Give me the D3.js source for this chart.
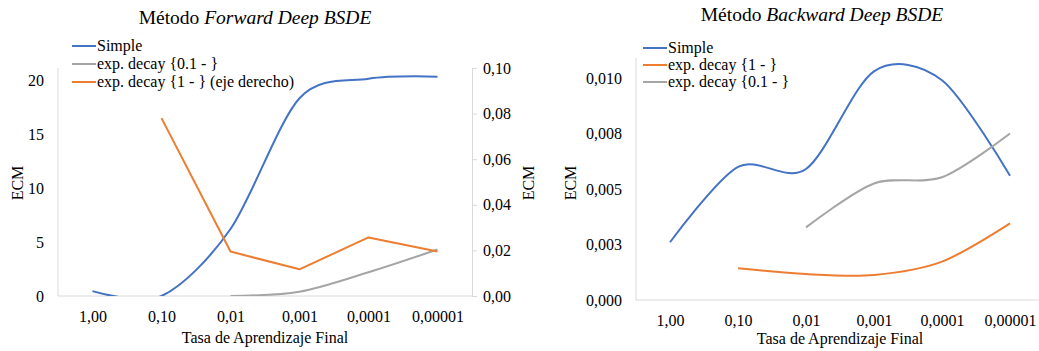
<!DOCTYPE html>
<html>
<head>
<meta charset="utf-8">
<script src="https://cdn.jsdelivr.net/npm/d3@7"></script>
<style>
  body { margin: 0; background: #fff; }
</style>
</head>
<body>
<div class="canvas"></div>
<script>
// categories on the x axis (final learning rate)
const categories = ['1,00', '0,10', '0,01', '0,001', '0,0001', '0,00001'];

// Forward Deep BSDE
const fwdSimple = [0.45, 0, 6.2, 18.3, 20.1, 20.3];
const fwdDecay01 = [null, null, 0, 0.4, 2.2, 4.3];
const fwdDecay1 = [null, 0.078, 0.0195, 0.0117, 0.0257, 0.0195]; // right axis
const fwdLeftTicks = [0, 5, 10, 15, 20];
const fwdRightTicks = [0, 0.02, 0.04, 0.06, 0.08, 0.10];
const fwdRightLabels = ['0,00', '0,02', '0,04', '0,06', '0,08', '0,10'];

// Backward Deep BSDE
const bwdSimple = [0.0026, 0.0060, 0.0059, 0.0103, 0.0099, 0.0056];
const bwdDecay1 = [null, 0.00143, 0.00117, 0.00113, 0.00173, 0.00345];
const bwdDecay01 = [null, null, 0.00327, 0.00525, 0.00553, 0.0075];
const bwdTicks = [0, 0.0025, 0.005, 0.0075, 0.01];
const bwdTickLabels = ['0,000', '0,003', '0,005', '0,008', '0,010'];

const BLUE = '#4472c4', ORANGE = '#ed7d31', GRAY = '#a5a5a5', AXIS = '#d9d9d9';
const FONT = '"Liberation Serif", "Times New Roman", Times, serif';

const svg = d3.select('.canvas')
  .append('svg')
  .attr('width', 1039)
  .attr('height', 351)
  .style('font-family', FONT);

const smooth = d3.curveCardinal.tension(0.1);

function txt(sel, size) {
  return sel.style('font-family', FONT).style('font-size', size + 'px').attr('fill', '#000');
}

function series(g, x, y, values, color, curve) {
  const pts = values.map((v, i) => ({ c: categories[i], v }));
  const line = d3.line()
    .defined(d => d.v !== null)
    .x(d => x(d.c))
    .y(d => y(d.v))
    .curve(curve || d3.curveLinear);
  g.append('path')
    .datum(pts)
    .attr('d', line)
    .attr('fill', 'none')
    .attr('stroke', color)
    .attr('stroke-width', 2)
    .attr('stroke-linejoin', 'round');
}

function legend(g, x0, y0, step, items) {
  items.forEach((it, i) => {
    const row = g.append('g').attr('transform', `translate(${x0},${y0 + i * step})`);
    row.append('line').attr('x1', 0).attr('x2', 24).attr('stroke', it.color).attr('stroke-width', 2);
    txt(row.append('text').attr('x', 25).attr('dy', '0.32em'), 16).text(it.name);
  });
}

// ---------- left chart: Forward ----------
{
  const left = 58, right = 472, top = 68, bottom = 296;
  const g = svg.append('g');

  const x = d3.scalePoint().domain(categories).range([left, right]).padding(0.5);
  const y = d3.scaleLinear().domain([0, 21.1]).range([bottom, top]);
  const y2 = d3.scaleLinear().domain([0, 0.1]).range([bottom, top]);

  svg.append('clipPath').attr('id', 'clipF')
    .append('rect').attr('x', left).attr('y', top - 5).attr('width', right - left).attr('height', bottom - top + 5);

  // axes
  g.append('line').attr('x1', left).attr('x2', right).attr('y1', bottom).attr('y2', bottom).attr('stroke', AXIS);
  g.append('line').attr('x1', left).attr('x2', left).attr('y1', top).attr('y2', bottom).attr('stroke', AXIS);

  const rAxis = g.append('g')
    .attr('transform', `translate(${right},0)`)
    .call(d3.axisRight(y2).tickValues(fwdRightTicks).tickFormat((d, i) => fwdRightLabels[i]).tickSize(5).tickPadding(6));
  rAxis.select('.domain').attr('stroke', AXIS);
  rAxis.selectAll('.tick line').attr('stroke', AXIS);
  txt(rAxis.selectAll('text'), 16);

  const lAxis = g.append('g')
    .attr('transform', `translate(${left},0)`)
    .call(d3.axisLeft(y).tickValues(fwdLeftTicks).tickSize(0).tickPadding(14));
  lAxis.select('.domain').remove();
  txt(lAxis.selectAll('text'), 16);

  const xAxis = g.append('g')
    .attr('transform', `translate(0,${bottom})`)
    .call(d3.axisBottom(x).tickSize(0).tickPadding(15));
  xAxis.select('.domain').remove();
  txt(xAxis.selectAll('text'), 16);

  const plot = g.append('g').attr('clip-path', 'url(#clipF)');
  series(plot, x, y, fwdSimple, BLUE, smooth);
  series(plot, x, y, fwdDecay01, GRAY, smooth);
  series(plot, x, y2, fwdDecay1, ORANGE);

  const t = txt(g.append('text').attr('x', 255).attr('y', 24).attr('text-anchor', 'middle'), 19.5);
  t.append('tspan').text('Método ');
  t.append('tspan').attr('font-style', 'italic').text('Forward Deep BSDE');
  txt(g.append('text').attr('x', 265).attr('y', 343).attr('text-anchor', 'middle'), 16)
    .text('Tasa de Aprendizaje Final');
  txt(g.append('text').attr('transform', 'translate(23,183) rotate(-90)').attr('text-anchor', 'middle'), 16).text('ECM');
  txt(g.append('text').attr('transform', 'translate(534,183) rotate(-90)').attr('text-anchor', 'middle'), 16).text('ECM');

  legend(g, 72, 46, 18, [
    { name: 'Simple', color: BLUE },
    { name: 'exp. decay {0.1 - }', color: GRAY },
    { name: 'exp. decay {1 - } (eje derecho)', color: ORANGE }
  ]);
}

// ---------- right chart: Backward ----------
{
  const left = 636, right = 1044, top = 58, bottom = 300;
  const g = svg.append('g');

  const x = d3.scalePoint().domain(categories).range([left, right]).padding(0.5);
  const y = d3.scaleLinear().domain([0, 0.0109]).range([bottom, top]);

  svg.append('clipPath').attr('id', 'clipB')
    .append('rect').attr('x', left).attr('y', top - 5).attr('width', right - left).attr('height', bottom - top + 5);

  g.append('line').attr('x1', left).attr('x2', right).attr('y1', bottom).attr('y2', bottom).attr('stroke', AXIS);
  g.append('line').attr('x1', left).attr('x2', left).attr('y1', top).attr('y2', bottom).attr('stroke', AXIS);

  const yAxis = g.append('g')
    .attr('transform', `translate(${left},0)`)
    .call(d3.axisLeft(y).tickValues(bwdTicks).tickFormat((d, i) => bwdTickLabels[i]).tickSize(0).tickPadding(14));
  yAxis.select('.domain').remove();
  txt(yAxis.selectAll('text'), 16);

  const xAxis = g.append('g')
    .attr('transform', `translate(0,${bottom})`)
    .call(d3.axisBottom(x).tickSize(0).tickPadding(15));
  xAxis.select('.domain').remove();
  txt(xAxis.selectAll('text'), 16);

  const plot = g.append('g').attr('clip-path', 'url(#clipB)');
  series(plot, x, y, bwdSimple, BLUE, smooth);
  series(plot, x, y, bwdDecay1, ORANGE, smooth);
  series(plot, x, y, bwdDecay01, GRAY, smooth);

  const t = txt(g.append('text').attr('x', 822).attr('y', 21).attr('text-anchor', 'middle'), 19.5);
  t.append('tspan').text('Método ');
  t.append('tspan').attr('font-style', 'italic').text('Backward Deep BSDE');
  txt(g.append('text').attr('x', 840).attr('y', 344).attr('text-anchor', 'middle'), 16)
    .text('Tasa de Aprendizaje Final');
  txt(g.append('text').attr('transform', 'translate(576,183) rotate(-90)').attr('text-anchor', 'middle'), 16).text('ECM');

  legend(g, 643, 48, 17, [
    { name: 'Simple', color: BLUE },
    { name: 'exp. decay {1 - }', color: ORANGE },
    { name: 'exp. decay {0.1 - }', color: GRAY }
  ]);
}
</script>
</body>
</html>
